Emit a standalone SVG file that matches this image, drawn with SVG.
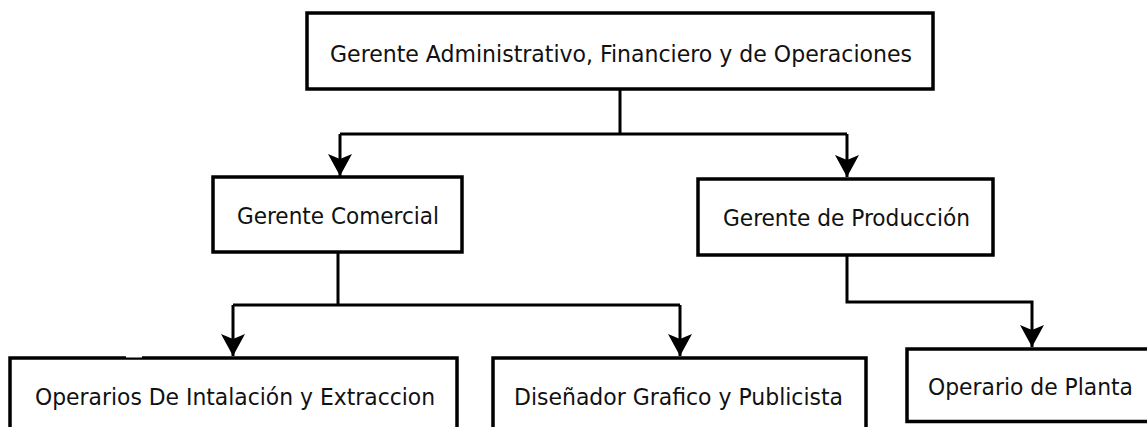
<svg xmlns="http://www.w3.org/2000/svg" width="1147" height="427" viewBox="0 0 1147 427">
<style>
.box{fill:#fff;stroke:#000;stroke-width:3.5}
.lbl{font-family:"DejaVu Sans Condensed","DejaVu Sans",sans-serif;font-size:23px;fill:#111}
.wire{fill:none;stroke:#000;stroke-width:3}
</style>
<defs>
<marker id="arr" viewBox="-23 -13 24 26" refX="0" refY="0" markerWidth="24" markerHeight="26" markerUnits="userSpaceOnUse" orient="auto">
<path d="M0,0 L-22,-12 L-17,0 L-22,12 Z" fill="#000"/>
</marker>
</defs>
<rect width="1147" height="427" fill="#fff"/>
<g id="connectors">
<path class="wire" d="M620,89 V134 M340,134 H847"/>
<path class="wire" d="M340,134 V176" marker-end="url(#arr)"/>
<path class="wire" d="M847,134 V177" marker-end="url(#arr)"/>
<path class="wire" d="M338,252 V305 M233,305 H680"/>
<path class="wire" d="M233,305 V356" marker-end="url(#arr)"/>
<path class="wire" d="M680,305 V356" marker-end="url(#arr)"/>
<path class="wire" d="M847,255 V302 H1032 V347" marker-end="url(#arr)"/>
</g>
<g id="n-top">
<rect class="box" x="307" y="13" width="626" height="76"/>
<text class="lbl" x="330" y="62" textLength="582" lengthAdjust="spacingAndGlyphs">Gerente Administrativo, Financiero y de Operaciones</text>
</g>
<g id="n-comercial">
<rect class="box" x="213" y="177" width="249" height="75"/>
<text class="lbl" x="237" y="224" textLength="202" lengthAdjust="spacingAndGlyphs">Gerente Comercial</text>
</g>
<g id="n-produccion">
<rect class="box" x="698" y="179" width="295" height="76"/>
<text class="lbl" x="723" y="226" textLength="247" lengthAdjust="spacingAndGlyphs">Gerente de Producción</text>
</g>
<g id="n-operarios">
<rect class="box" x="10" y="358" width="447" height="90"/>
<rect x="126" y="355.5" width="16" height="2" fill="#fff"/>
<text class="lbl" x="35" y="405" textLength="400" lengthAdjust="spacingAndGlyphs">Operarios De Intalación y Extraccion</text>
</g>
<g id="n-disenador">
<rect class="box" x="493" y="358" width="373" height="90"/>
<text class="lbl" x="514" y="405" textLength="329" lengthAdjust="spacingAndGlyphs">Diseñador Grafico y Publicista</text>
</g>
<g id="n-planta">
<rect class="box" x="907" y="349" width="260" height="72.5"/>
<text class="lbl" x="928" y="395" textLength="205" lengthAdjust="spacingAndGlyphs">Operario de Planta</text>
</g>
</svg>
